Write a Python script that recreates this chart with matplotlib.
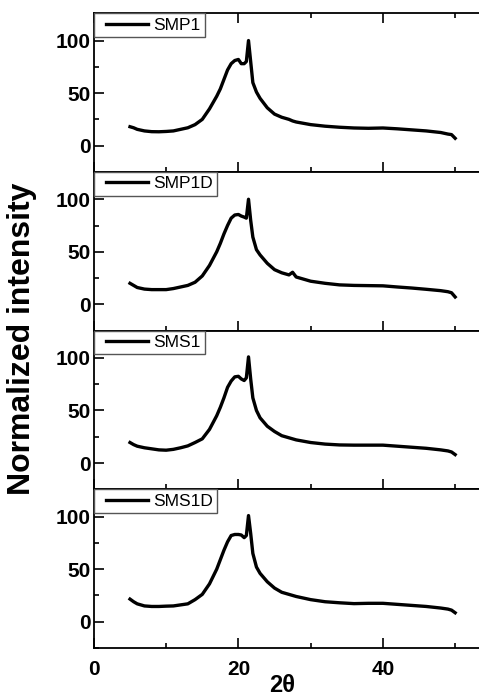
import matplotlib

matplotlib.use("Agg")

import matplotlib.pyplot as plt
from matplotlib.legend_handler import HandlerLine2D
from matplotlib.ticker import MultipleLocator

plt.rcParams["font.family"] = ["Liberation Sans", "DejaVu Sans"]

# 2theta grid shared by the four patterns
two_theta = [5.0, 5.5, 6.0, 7.0, 8.0, 9.0, 10.0, 11.0, 12.0, 13.0, 14.0, 15.0,
             16.0, 17.0, 17.5, 18.0, 18.5, 19.0, 19.5, 20.0, 20.4, 20.8, 21.1,
             21.4, 21.7, 22.0, 22.5, 23.0, 24.0, 25.0, 26.0, 27.0, 27.5, 28.0,
             30.0, 32.0, 34.0, 36.0, 38.0, 40.0, 42.0, 44.0, 46.0, 48.0, 49.0,
             49.5, 50.0]

smp1 = [18, 17, 15.5, 14, 13.3, 13.2, 13.5, 14, 15.5, 17, 20, 25,
        35, 47, 54, 63, 72, 78, 81, 82, 78, 78, 80,
        100, 80, 60, 51, 45, 36, 30, 27, 25, 23.5, 22.5,
        20, 18.5, 17.5, 16.8, 16.5, 16.8, 16, 15, 14, 12.5, 11,
        10.5, 7]

smp1d = [20, 18, 16, 14.5, 14, 14, 14, 15, 16.5, 18, 21, 27,
         37, 50, 58, 67, 75, 82, 85, 85.5, 84, 83, 82,
         100, 80, 64, 52, 47, 39, 33, 30, 28, 30.5, 26,
         22, 20, 18.5, 18, 17.8, 17.6, 16.5, 15.5, 14.3, 13, 12,
         11, 7]

sms1 = [19.5, 17.5, 16, 14.5, 13.5, 12.5, 12.2, 13, 14.5, 16.3, 19.5, 23,
        32, 45, 53, 62, 72, 78, 82, 82.5, 80, 78.5, 81,
        101, 80, 62, 50, 43, 35, 30, 26, 24, 23, 22,
        19.5, 18, 17.2, 17, 17, 17, 16, 15, 14, 12.5, 11.5,
        10.5, 8]

sms1d = [21.5, 19, 17, 15, 14.5, 14.5, 14.8, 15, 16, 17, 21, 26,
         36, 50, 59, 68, 76, 82, 83, 83, 82.5, 80, 82,
         101, 84, 65, 52, 46, 38, 32, 28, 26, 25, 24,
         21, 19, 18, 17.2, 17.5, 17.5, 16.5, 15.5, 14.5, 13, 12,
         11, 8.5]

names = ["SMP1", "SMP1D", "SMS1", "SMS1D"]
series = [smp1, smp1d, sms1, sms1d]

fig = plt.figure(figsize=(4.79, 6.96), dpi=100)
left, right, top, bottom = 0.196, 1.0, 0.981, 0.069
h = (top - bottom) / 4

for i, (name, vals) in enumerate(zip(names, series)):
    ax = fig.add_axes([left, top - (i + 1) * h, right - left, h])
    ax.plot(two_theta, vals, color="black", lw=2.4, label=name)
    ax.set_xlim(0, 53.3)
    ax.set_ylim(-25, 126)
    ax.spines["right"].set_visible(False)
    for s in ["left", "top", "bottom"]:
        ax.spines[s].set_linewidth(1.3)
    ax.xaxis.set_major_locator(MultipleLocator(20))
    ax.xaxis.set_minor_locator(MultipleLocator(10))
    ax.yaxis.set_major_locator(MultipleLocator(50))
    ax.yaxis.set_minor_locator(MultipleLocator(25))
    ax.tick_params(which="both", direction="in", top=(i == 0), right=False,
                   width=1.2)
    ax.tick_params(which="major", length=7)
    ax.tick_params(which="minor", length=3.5)
    ax.tick_params(axis="y", labelsize=15, pad=2)
    ax.tick_params(axis="x", labelsize=15, pad=8.5, labelbottom=(i == 3))
    for lab in ax.get_xticklabels() + ax.get_yticklabels():
        lab.set_fontweight("bold")
    leg = ax.legend(loc="upper left", bbox_to_anchor=(0, 1), borderaxespad=0,
                    fontsize=12.5, frameon=True, fancybox=False,
                    handlelength=3.3, handletextpad=-0.15, borderpad=0.25,
                    handler_map={matplotlib.lines.Line2D:
                                 HandlerLine2D(numpoints=2, marker_pad=0.45)})
    leg.get_frame().set_edgecolor("#555555")
    leg.get_frame().set_linewidth(1.0)
    leg.get_frame().set_alpha(1)

fig.text(22 / 479, 0.513, "Normalized intensity", rotation=90, ha="center",
         va="center", fontsize=23, fontweight="bold")
fig.text(282 / 479, 1 - 685 / 696, "2\u03b8", ha="center", va="center",
         fontsize=17, fontweight="bold")

fig.savefig("out.png", dpi=100)
